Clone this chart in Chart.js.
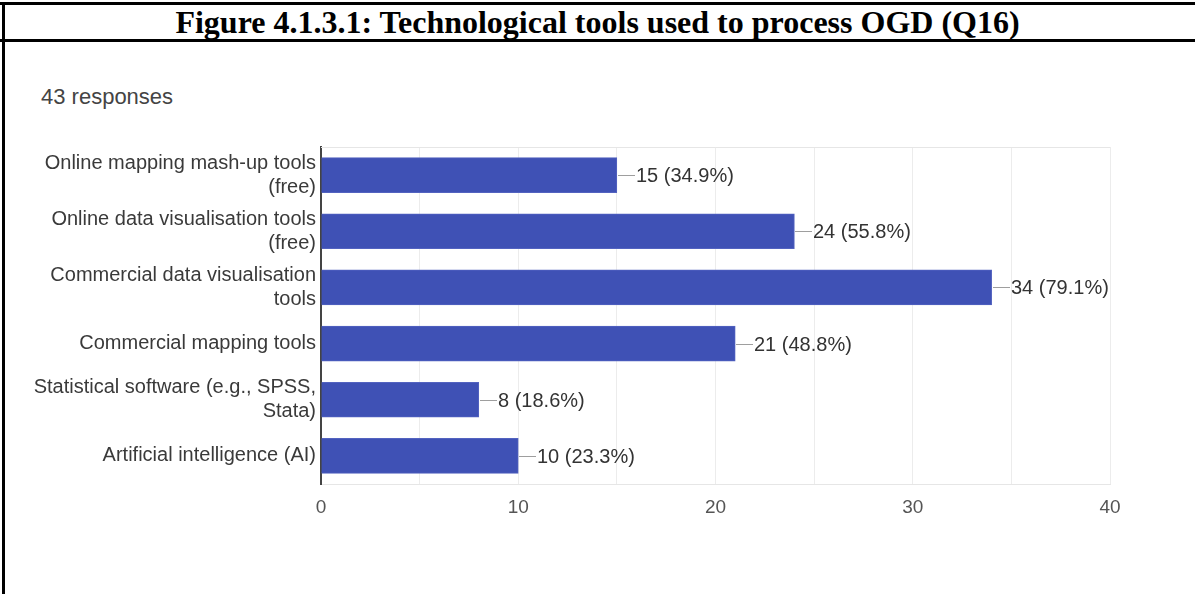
<!DOCTYPE html>
<html lang="en">
<head>
    <meta charset="UTF-8">
    <title>Technological tools used to process OGD</title>
    <script src="https://cdn.jsdelivr.net/npm/chart.js"></script>
    <style>
        body {
            margin: 0;
            width: 1195px;
            height: 594px;
            background: #fff;
            position: relative;
            overflow: hidden;
        }
        .frame-top {
            position: absolute; left: 0; top: 2px; width: 1195px; height: 3px; background: #000;
        }
        .frame-left {
            position: absolute; left: 2px; top: 2px; width: 3px; height: 592px; background: #000;
        }
        .frame-title {
            position: absolute; left: 0; top: 39px; width: 1195px; height: 3px; background: #000;
        }
        h1 {
            position: absolute;
            left: 0; top: 4px; width: 1195px;
            margin: 0;
            text-align: center;
            font: bold 32px "Liberation Serif", "Times New Roman", serif;
            line-height: 36px;
            color: #000;
        }
        .responses {
            position: absolute;
            left: 41px; top: 84px;
            font: 22px "Liberation Sans", Arial, sans-serif;
            color: #444;
        }
        #wrap {
            position: absolute;
            left: 0; top: 130px;
            width: 1195px; height: 420px;
        }
    </style>
</head>
<body>
    <div class="frame-top"></div>
    <div class="frame-left"></div>
    <div class="frame-title"></div>
    <h1>Figure 4.1.3.1: Technological tools used to process OGD (Q16)</h1>
    <div class="responses">43 responses</div>
    <div id="wrap"><canvas id="toolsChart"></canvas></div>

    <script>
        // data
        const categories = [
            ['Online mapping mash-up tools', '(free)'],
            ['Online data visualisation tools', '(free)'],
            ['Commercial data visualisation', 'tools'],
            'Commercial mapping tools',
            ['Statistical software (e.g., SPSS,', 'Stata)'],
            'Artificial intelligence (AI)'
        ];
        const counts = [15, 24, 34, 21, 8, 10];
        const percents = [34.9, 55.8, 79.1, 48.8, 18.6, 23.3];
        const xTicks = [0, 10, 20, 30, 40];

        const fontFamily = '"Liberation Sans", Arial, sans-serif';

        // leader line + "n (p%)" label next to each bar, plus the top frame line
        const barLabels = {
            id: 'barLabels',
            beforeDatasetsDraw(chart) {
                const { ctx, chartArea } = chart;
                ctx.save();
                ctx.strokeStyle = '#e6e6e6';
                ctx.lineWidth = 1;
                ctx.beginPath();
                ctx.moveTo(chartArea.left, chartArea.top + 0.5);
                ctx.lineTo(chartArea.right, chartArea.top + 0.5);
                ctx.stroke();
                ctx.restore();
            },
            afterDatasetsDraw(chart) {
                const { ctx } = chart;
                const meta = chart.getDatasetMeta(0);
                ctx.save();
                ctx.font = '20px ' + fontFamily;
                ctx.textBaseline = 'middle';
                meta.data.forEach((bar, i) => {
                    const x = Math.round(bar.x);
                    const y = Math.round(bar.y) + 0.5;
                    ctx.strokeStyle = '#9e9e9e';
                    ctx.lineWidth = 1;
                    ctx.beginPath();
                    ctx.moveTo(x + 1, y);
                    ctx.lineTo(x + 18, y);
                    ctx.stroke();
                    ctx.fillStyle = '#333';
                    ctx.fillText(counts[i] + ' (' + percents[i].toFixed(1) + '%)', x + 19, y + 1);
                });
                ctx.restore();
            }
        };

        const ctx = document.getElementById('toolsChart').getContext('2d');
        new Chart(ctx, {
            type: 'bar',
            data: {
                labels: categories,
                datasets: [{
                    data: counts,
                    backgroundColor: '#3f51b5',
                    borderColor: '#5363c0',
                    borderWidth: 1,
                    barThickness: 35
                }]
            },
            options: {
                indexAxis: 'y',
                responsive: true,
                maintainAspectRatio: false,
                animation: false,
                layout: { padding: { top: 13, right: 85, bottom: 0, left: 0 } },
                plugins: {
                    legend: { display: false },
                    tooltip: { enabled: false }
                },
                scales: {
                    x: {
                        min: 0,
                        max: 40,
                        afterFit(scale) { scale.height = 66; },
                        ticks: {
                            stepSize: 5,
                            padding: 12,
                            color: '#555',
                            font: { family: fontFamily, size: 19 },
                            callback: (v) => xTicks.includes(v) ? v : ''
                        },
                        grid: { color: '#ececec', drawTicks: false },
                        border: { color: '#e6e6e6', width: 1 }
                    },
                    y: {
                        afterFit(scale) { scale.width = 321; },
                        ticks: {
                            padding: 5,
                            color: '#3a3a3a',
                            font: { family: fontFamily, size: 20, lineHeight: 1.2 }
                        },
                        grid: { display: false, drawTicks: false },
                        border: { color: '#444', width: 2 }
                    }
                }
            },
            plugins: [barLabels]
        });
    </script>
</body>
</html>
